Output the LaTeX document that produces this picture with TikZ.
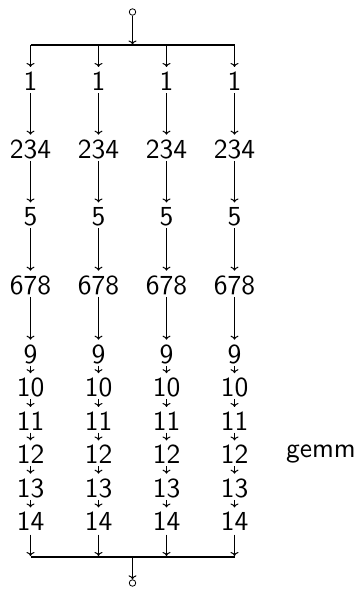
\documentclass[tikz,border=0pt]{standalone}
\usepackage{fontspec}
\usetikzlibrary{arrows.meta}
% regular-weight sans at design size 10, scaled up
\newfontfamily\stagefont{lmsans10-regular.otf}
\begin{document}
\begin{tikzpicture}[x=1pt,y=-1pt,
  lbl/.style={font=\stagefont\fontsize{27.5}{33}\selectfont, inner sep=0pt},
  flow/.style={line width=1pt, -{To[length=4pt,width=8pt]}, shorten <=2pt, shorten >=4.5pt},
  bus/.style={line width=2pt},
  port/.style={circle, draw, line width=0.8pt, minimum size=6.5pt, inner sep=0pt}]
\useasboundingbox (0,0) rectangle (358,596);

% fork: entry point and upper bus
\node[port] (src) at (132.5,12) {};
\coordinate (busTop) at (132.5,45);
\coordinate (busTopL) at (30.5,45);
\coordinate (busTopR) at (234.5,45);
\draw[bus] (busTopL) -- (busTopR);
\draw[flow, shorten <=0pt, shorten >=0.5pt] (src) -- (busTop);

% join: lower bus and exit point
\coordinate (busBot) at (132.5,556.5);
\coordinate (busBotL) at (30.5,556.5);
\coordinate (busBotR) at (234.5,556.5);
\draw[bus] (busBotL) -- (busBotR);
\node[port] (sink) at (132.5,583) {};
\draw[flow, shorten <=0pt, shorten >=0pt] (busBot) -- (sink);

% four parallel chains of stages
\foreach \i in {1,2,3,4}{
  \pgfmathsetmacro\x{30.5+68*(\i-1)}
  \coordinate (t\i) at (\x,45);
  \coordinate (b\i) at (\x,556.5);
  \foreach \lab/\y [count=\k, remember=\k as \prev (initially 0)] in
      {1/81.5, 234/149, 5/216.5, 678/285, 9/354, 10/387.5, 11/421, 12/454.5, 13/488, 14/521.5}{
    \node[lbl] (n\i-\k) at (\x,\y) {\lab};
    \ifnum\prev>0
      \draw[flow] (n\i-\prev.south) -- (n\i-\k.north);
    \fi
  }
  \draw[flow, shorten <=0pt, shorten >=5pt] (t\i) -- (n\i-1.north);
  \draw[flow, shorten <=3.5pt, shorten >=0.5pt] (n\i-10.south) -- (b\i);
}

\node[lbl, anchor=base] (gemm) at (321,457) {gemm};
\end{tikzpicture}
\end{document}
